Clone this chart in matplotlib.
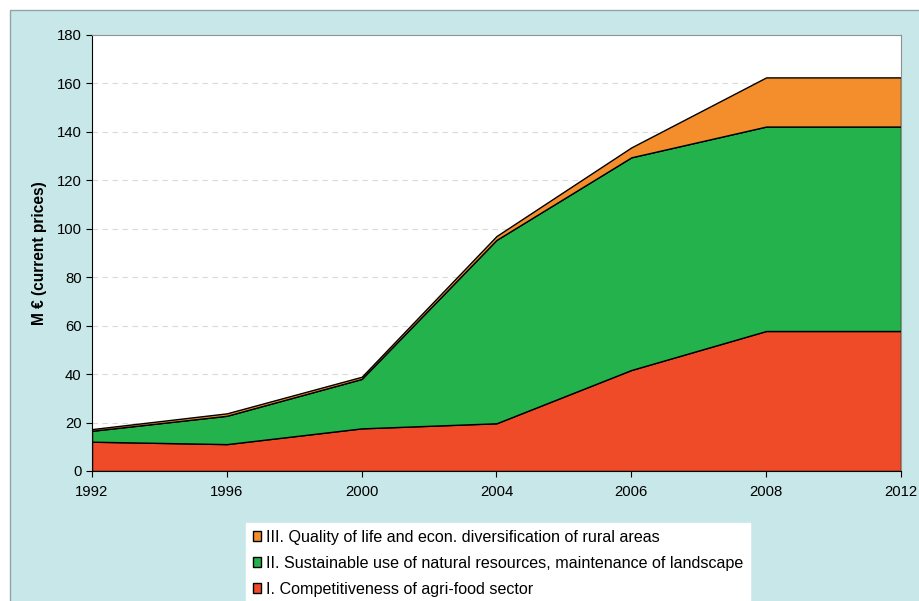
import matplotlib.pyplot as plt
import numpy as np
from matplotlib.patches import Rectangle

plt.rcParams['font.family'] = ['Liberation Sans', 'DejaVu Sans']

years = ['1992', '1996', '2000', '2004', '2006', '2008', '2012']
axis1 = [12.1, 11.1, 17.6, 19.7, 41.7, 57.8, 57.8]
axis2 = [4.5, 11.7, 20.4, 75.7, 87.8, 84.4, 84.4]
axis3 = [0.7, 1.0, 0.9, 1.6, 4.1, 20.3, 20.3]

labels = ['I. Competitiveness of agri-food sector',
          'II. Sustainable use of natural resources, maintenance of landscape',
          'III. Quality of life and econ. diversification of rural areas']
colors = ['#F04B28', '#24B24D', '#F48E2C']

fig = plt.figure(figsize=(9.2, 6.01), dpi=100)
fig.patch.set_facecolor('white')
# light blue chart area with thin grey frame
fig.patches.append(Rectangle((10 / 920, -0.01), 1, 1 - 10 / 601 + 0.01, transform=fig.transFigure,
                             facecolor='#C8E7E8', edgecolor='#8FA5A8', lw=1, zorder=-5))

ax = fig.add_axes([92 / 920, 1 - 471 / 601, (901 - 92) / 920, (471 - 35) / 601])
ax.set_facecolor('white')

x = np.arange(len(years))
polys = ax.stackplot(x, axis1, axis2, axis3, colors=colors, labels=labels,
                     edgecolor='black', linewidth=1, zorder=2)

ax.set_xlim(0, len(years) - 1)
ax.set_ylim(0, 180)
ax.set_yticks(range(0, 181, 20))
ax.set_xticks(x)
ax.set_xticklabels(years)
ax.tick_params(labelsize=10.7, length=4, direction='out', color='black')
ax.tick_params(axis='x', pad=6)
for y in range(20, 180, 20):
    ax.axhline(y, color='#DADADA', lw=0.8, ls=(0, (5, 4)), zorder=1)

ax.spines['left'].set_color('black')
ax.spines['bottom'].set_color('black')
ax.spines['top'].set_color('#909090')
ax.spines['right'].set_color('#909090')
ax.spines['bottom'].set_zorder(3)

ax.set_ylabel('M € (current prices)', fontsize=11.2, fontweight='bold', labelpad=7)

handles, labs = ax.get_legend_handles_labels()
leg = fig.legend(handles[::-1], labs[::-1], loc='upper left',
                 bbox_to_anchor=(246 / 920, 1 - 523 / 601), fontsize=11.6,
                 frameon=True, fancybox=False, edgecolor='white', facecolor='white',
                 framealpha=1, handlelength=0.5, handleheight=0.5, handletextpad=0.35,
                 labelspacing=0.68, borderpad=0.42, borderaxespad=0)

fig.savefig('out.png', dpi=100)
